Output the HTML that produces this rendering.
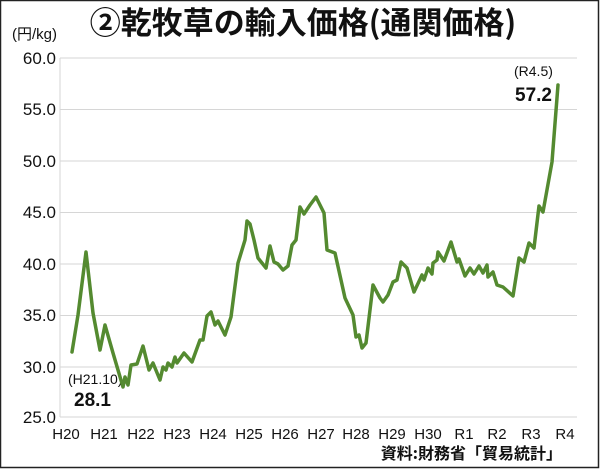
<!DOCTYPE html>
<html><head><meta charset="utf-8"><style>
html,body{margin:0;padding:0;background:#fff}
svg{display:block}
text{font-family:"Liberation Sans","Noto Sans CJK JP",sans-serif;fill:#111}
</style></head><body>
<svg width="600" height="469" viewBox="0 0 600 469" xmlns="http://www.w3.org/2000/svg">
<rect x="0.5" y="0.5" width="598" height="467" fill="#fff" stroke="#222" stroke-width="1.5"/>
<g stroke="#d6d6d6" stroke-width="1">
<line x1="60" y1="58" x2="577" y2="58"/>
<line x1="60" y1="109.5" x2="577" y2="109.5"/>
<line x1="60" y1="161" x2="577" y2="161"/>
<line x1="60" y1="212.5" x2="577" y2="212.5"/>
<line x1="60" y1="264" x2="577" y2="264"/>
<line x1="60" y1="315.5" x2="577" y2="315.5"/>
<line x1="60" y1="367" x2="577" y2="367"/>
<line x1="60" y1="417" x2="577" y2="417"/>
<line x1="60" y1="58" x2="60" y2="417"/>
</g>
<text x="303" y="34" text-anchor="middle" font-size="31" font-weight="bold" style="font-family:'Noto Sans CJK JP',sans-serif">②乾牧草の輸入価格(通関価格)</text>
<text x="12" y="39" font-size="15">(円/kg)</text>
<g font-size="17" text-anchor="end">
<text x="56" y="64">60.0</text>
<text x="56" y="115">55.0</text>
<text x="56" y="167">50.0</text>
<text x="56" y="218">45.0</text>
<text x="56" y="270">40.0</text>
<text x="56" y="321">35.0</text>
<text x="56" y="373">30.0</text>
<text x="56" y="423">25.0</text>
</g>
<g font-size="15" text-anchor="middle">
<text x="66" y="439">H20</text><text x="104" y="439">H21</text><text x="141" y="439">H22</text>
<text x="177" y="439">H23</text><text x="213" y="439">H24</text><text x="249" y="439">H25</text>
<text x="285" y="439">H26</text><text x="321" y="439">H27</text><text x="356" y="439">H28</text>
<text x="392" y="439">H29</text><text x="428" y="439">H30</text><text x="464" y="439">R1</text>
<text x="497" y="439">R2</text><text x="531" y="439">R3</text><text x="565" y="439">R4</text>
</g>
<text x="562" y="459" font-size="16" font-weight="bold" text-anchor="end" style="font-family:'Noto Sans CJK JP',sans-serif">資料:財務省「貿易統計」</text>
<text x="68" y="384" font-size="14">(H21.10)</text>
<text x="74" y="406" font-size="19" font-weight="bold">28.1</text>
<text x="514" y="76" font-size="14">(R4.5)</text>
<text x="515" y="101" font-size="19" font-weight="bold">57.2</text>
<polyline fill="none" stroke="#548a30" stroke-width="3.5" stroke-linejoin="round" stroke-linecap="round" points="72,352 78,315 86,252 93,313 100,350 105,325 113,353 123,387 125,377 128,385 131,365 137,364 143,346 149,370 153,363 160,380 163,367 166,370 168,363 172,367 175,357 177,363 184,353 192,362 200,340 203,340 207,316 211,312 215,325 218,321 225,335 231,317 238,263 245,240 247,221 250,224 254,240 258,258 262,263 266,268 270,246 274,262 278,264 283,270 288,266 292,245 296,240 300,207 304,214 310,205 316,197 320,205 324,213 327,250 335,253 345,298 353,315 356,337 359,335 362,348 366,343 373,285 380,298 383,302 388,295 393,282 397,280 401,262 407,268 414,292 422,275 424,280 428,268 432,274 433,263 437,260 438,252 444,261 451,242 457,262 459,259 465,276 470,268 474,274 479,266 483,273 487,265 488,277 493,272 497,285 503,287 513,296 519,258 524,262 529,243 534,248 539,206 543,212 552,162 558,85"/>
</svg>
</body></html>
